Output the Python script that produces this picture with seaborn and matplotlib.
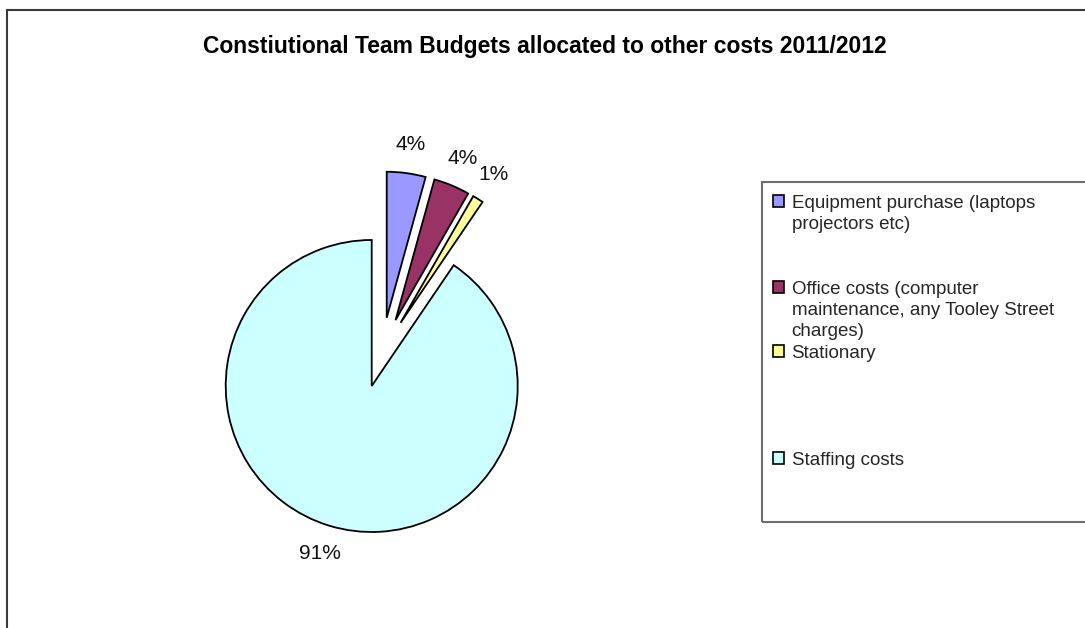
import matplotlib
matplotlib.use("Agg")
import matplotlib.pyplot as plt
from matplotlib.patches import Patch, Rectangle
import seaborn as sns

# data
categories = [
    "Equipment purchase (laptops\nprojectors etc)",
    "Office costs (computer\nmaintenance, any Tooley Street\ncharges)",
    "Stationary",
    "Staffing costs",
]
values = [4.3, 4.0, 1.2, 90.6]
colors = ["#9999FF", "#993366", "#FFFF99", "#CCFFFF"]
title = "Constiutional Team Budgets allocated to other costs 2011/2012"

# blank legend rows after each entry (excel spacing)
blank_rows = [2, 0, 4, 0]

sns.set_theme(style="white")
plt.rcParams["font.family"] = ["Liberation Sans", "DejaVu Sans"]

W, H = 1085, 628
fig = plt.figure(figsize=(W / 100, H / 100), dpi=100)
ax = fig.add_axes([0, 0, 1, 1])

wedges, texts, autotexts = ax.pie(
    values,
    colors=colors,
    startangle=90,
    counterclock=False,
    explode=[0.24] * len(values),
    autopct="%.0f%%",
    pctdistance=1.2,
    wedgeprops=dict(edgecolor="black", linewidth=1.3),
    textprops=dict(fontsize=15, color="#111111"),
)

# pie centre at (382, 352) px, radius 146 px
r = 146.0
cx, cy = 382.0, H - 352.5
ax.set_xlim(-cx / r, (W - cx) / r)
ax.set_ylim(-cy / r, (H - cy) / r)
ax.set_aspect("auto")
ax.axis("off")

fig.text(545 / W, 1 - 47 / H, title, ha="center", va="center",
         fontsize=16.5, fontweight="bold", color="black")

# legend, one row per text line
handles, labels = [], []
for w, cat, nb in zip(wedges, categories, blank_rows):
    for i, line in enumerate(cat.split("\n")):
        if i == 0:
            handles.append(Patch(facecolor=w.get_facecolor(), edgecolor="black", linewidth=1.2))
        else:
            handles.append(Patch(facecolor="none", edgecolor="none"))
        labels.append(line)
    for _ in range(nb):
        handles.append(Patch(facecolor="none", edgecolor="none"))
        labels.append(" ")

fig.legend(handles, labels, loc="upper left",
           bbox_to_anchor=(773 / W, 1 - 195 / H),
           frameon=False, fontsize=13.5, borderpad=0, borderaxespad=0,
           labelspacing=0.235, handlelength=0.59, handleheight=0.59,
           handletextpad=0.4)

# legend box and chart border
fig.patches.append(Rectangle((762 / W, 1 - 522 / H), 0.4, (522 - 182) / H,
                             transform=fig.transFigure, fill=False,
                             edgecolor="#6e6e6e", linewidth=1.5))
fig.patches.append(Rectangle((6.5 / W, -0.1), 1.2, 1.1 - 10.5 / H,
                             transform=fig.transFigure, fill=False,
                             edgecolor="#3a3a3a", linewidth=1.5))

fig.savefig("out.png", dpi=100)
